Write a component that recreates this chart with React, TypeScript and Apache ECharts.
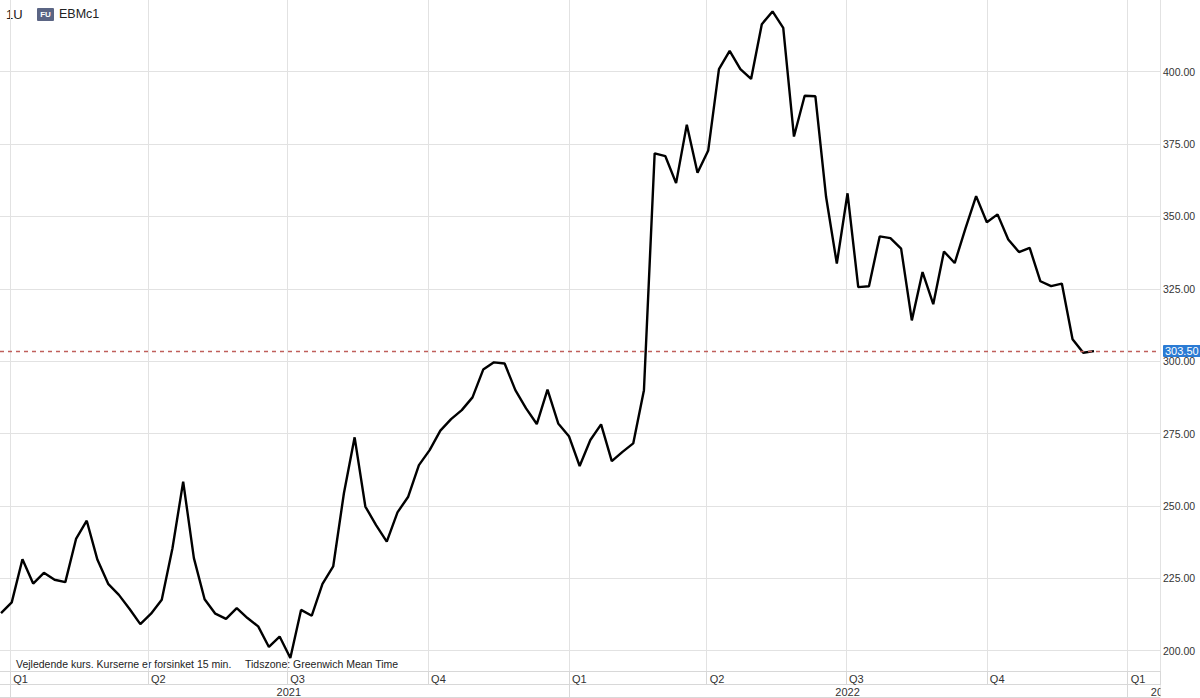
import React, { useEffect, useRef } from "react";
import * as echarts from "echarts";

// ---- data (weekly closes, EBMc1) ----
const firstWeek = "2020-12-26";
const weeklyCloses2021 = [
  213.0, 216.7, 231.6, 223.2, 226.9, 224.5, 223.7, 238.6, 244.9, 231.4,
  223.1, 219.3, 214.4, 209.2, 212.8, 217.6, 235.4, 258.4, 232.0, 217.8,
  212.8, 211.0, 214.7, 211.3, 208.4, 201.3, 204.9, 197.5, 214.1, 212.1,
  223.1, 229.1, 254.4, 273.7, 249.8, 243.4, 237.7, 247.8, 253.2, 264.1,
  269.3, 276.0, 280.0, 283.1, 287.5, 297.1, 299.6, 299.2, 290.0, 283.7,
  278.3, 290.2, 278.5,
];
const weeklyCloses2022 = [
  274.1, 263.8, 272.8, 278.2, 265.5, 268.7, 271.6,
  290.0, 371.8, 370.8, 361.5, 381.7, 365.1, 372.8, 400.9, 407.2, 400.9,
  397.5, 416.4, 420.8, 415.1, 377.6, 391.7, 391.5, 356.7, 333.7, 358.0,
  325.6, 325.9, 343.1, 342.5, 338.9, 314.1, 330.8, 319.7, 337.9, 333.9,
  345.8, 357.0, 348.0, 350.7, 342.0, 337.7, 339.1, 327.6, 325.9, 326.8,
  307.6, 302.9, 303.5,
];
const quarterStarts = [
  "2021-01-01", "2021-04-01", "2021-07-01", "2021-10-01",
  "2022-01-01", "2022-04-01", "2022-07-01", "2022-10-01", "2023-01-01",
];
const yearStarts = ["2021-01-01", "2022-01-01", "2023-01-01"];
const yearLabelAnchors = ["2021-07-02", "2022-07-02", "2023-01-15"];
const priceTicks = [200, 225, 250, 275, 300, 325, 350, 375, 400];
const axisStart = "2020-12-25T08:00:00Z";
const axisEnd = "2023-01-22T03:00:00Z";
const yMin = 193;
const yMax = 424.75;

const DAY = 86400000;
const FONT = "'Liberation Sans', Arial, Helvetica, sans-serif";

export default function App() {
  const ref = useRef<HTMLDivElement>(null);
  useEffect(() => {
    if (!ref.current) return;
    const chart = echarts.init(ref.current, null, { renderer: "svg" });
    const closes = [...weeklyCloses2021, ...weeklyCloses2022];
    const t0 = Date.parse(firstWeek);
    const data = closes.map((v, i) => [t0 + i * 7 * DAY, v]);
    const xMin = Date.parse(axisStart);
    const xMax = Date.parse(axisEnd);
    const q = quarterStarts.map((d) => Date.parse(d));
    const ys = yearStarts.map((d) => Date.parse(d));
    const yl = yearLabelAnchors.map((d) => Date.parse(d));
    const last = closes[closes.length - 1];
    const grid = "#e2e2e2";
    const rowLine = "#d8d8d8";
    const dashColor = "#c0605c";

    chart.setOption({
      animation: false,
      textStyle: { fontFamily: FONT },
      grid: { left: 0, right: 40, top: 0, bottom: 27, containLabel: false },
      xAxis: [
        {
          type: "value",
          min: xMin,
          max: xMax,
          position: "bottom",
          axisLine: { show: true, lineStyle: { color: rowLine, width: 1 } },
          axisTick: { show: true, customValues: [...q, xMax], length: 13, lineStyle: { color: rowLine } },
          splitLine: { show: true, lineStyle: { color: grid, width: 1 } },
          axisLabel: {
            customValues: q,
            formatter: (v: number) => "Q" + (Math.floor(new Date(v).getUTCMonth() / 3) + 1),
            align: "left",
            margin: 2,
            padding: [0, 0, 0, 3],
            fontSize: 11,
            color: "#333",
            fontFamily: FONT,
          },
        },
        {
          type: "value",
          min: xMin,
          max: xMax,
          position: "bottom",
          offset: 13,
          axisLine: { show: true, lineStyle: { color: rowLine, width: 1 } },
          axisTick: { show: true, customValues: [...ys, xMax], length: 13, lineStyle: { color: rowLine } },
          splitLine: { show: false },
          axisLabel: {
            customValues: yl,
            formatter: (v: number) => {
              const y = new Date(v).getUTCFullYear();
              return y >= 2023 ? "{r|" + y + "}" : String(y);
            },
            rich: { r: { padding: [0, 0, 0, 28], fontSize: 11, color: "#333", fontFamily: FONT } },
            align: "center",
            margin: 2,
            fontSize: 11,
            color: "#333",
            fontFamily: FONT,
          },
        },
        {
          type: "value",
          min: xMin,
          max: xMax,
          position: "bottom",
          offset: 26,
          axisLine: { show: true, lineStyle: { color: rowLine, width: 1 } },
          axisTick: { show: false },
          splitLine: { show: false },
          axisLabel: { show: false },
        },
      ],
      yAxis: {
        type: "value",
        position: "right",
        min: yMin,
        max: yMax,
        axisLine: { show: true, lineStyle: { color: grid } },
        axisTick: { show: false, customValues: priceTicks },
        splitLine: { show: true, lineStyle: { color: grid, width: 1 } },
        axisLabel: {
          customValues: priceTicks,
          formatter: (v: number) => v.toFixed(2),
          margin: 3,
          fontSize: 10.5,
          color: "#333",
          fontFamily: FONT,
        },
      },
      series: [
        {
          type: "line",
          data,
          showSymbol: false,
          symbol: "none",
          clip: true,
          lineStyle: { color: "#000", width: 2.4 },
          markLine: {
            silent: true,
            symbol: ["none", "none"],
            data: [{ yAxis: last, lineStyle: { color: dashColor, type: [4, 4], width: 1.3 } }],
            lineStyle: { color: dashColor, type: [4, 4], width: 1.3, opacity: 1 },
            label: {
              position: "end",
              distance: 3,
              formatter: () => last.toFixed(2),
              backgroundColor: "#2b7bd4",
              color: "#fff",
              padding: [1, 2, 0, 2],
              borderRadius: 1,
              fontSize: 11,
              fontFamily: FONT,
            },
          },
        },
      ],
      graphic: [
        { type: "text", x: 6, y: 14, style: { text: "1U", fill: "#222", font: "13px " + FONT, verticalAlign: "middle" } },
        { type: "rect", x: 37, y: 8, shape: { width: 17, height: 13, r: 1 }, style: { fill: "#5b6584" } },
        {
          type: "text",
          x: 45.5,
          y: 14.5,
          style: { text: "FU", fill: "#fff", font: "bold 8px " + FONT, align: "center", verticalAlign: "middle" },
        },
        { type: "text", x: 59, y: 14, style: { text: "EBMc1", fill: "#222", font: "12.5px " + FONT, verticalAlign: "middle" } },
        {
          type: "text",
          x: 16,
          y: 663.5,
          style: { text: "Vejledende kurs. Kurserne er forsinket 15 min.", fill: "#222", font: "10.5px " + FONT, verticalAlign: "middle" },
        },
        {
          type: "text",
          x: 245,
          y: 663.5,
          style: { text: "Tidszone: Greenwich Mean Time", fill: "#222", font: "10.5px " + FONT, verticalAlign: "middle" },
        },
        { type: "rect", x: 1160.5, y: 685, z: 100, shape: { width: 40, height: 13 }, style: { fill: "#fff" } },
      ],
    });
    return () => chart.dispose();
  }, []);

  return (
    <div
      ref={ref}
      style={{ position: "fixed", left: 0, top: 0, width: 1200, height: 698, background: "#fff" }}
    />
  );
}
